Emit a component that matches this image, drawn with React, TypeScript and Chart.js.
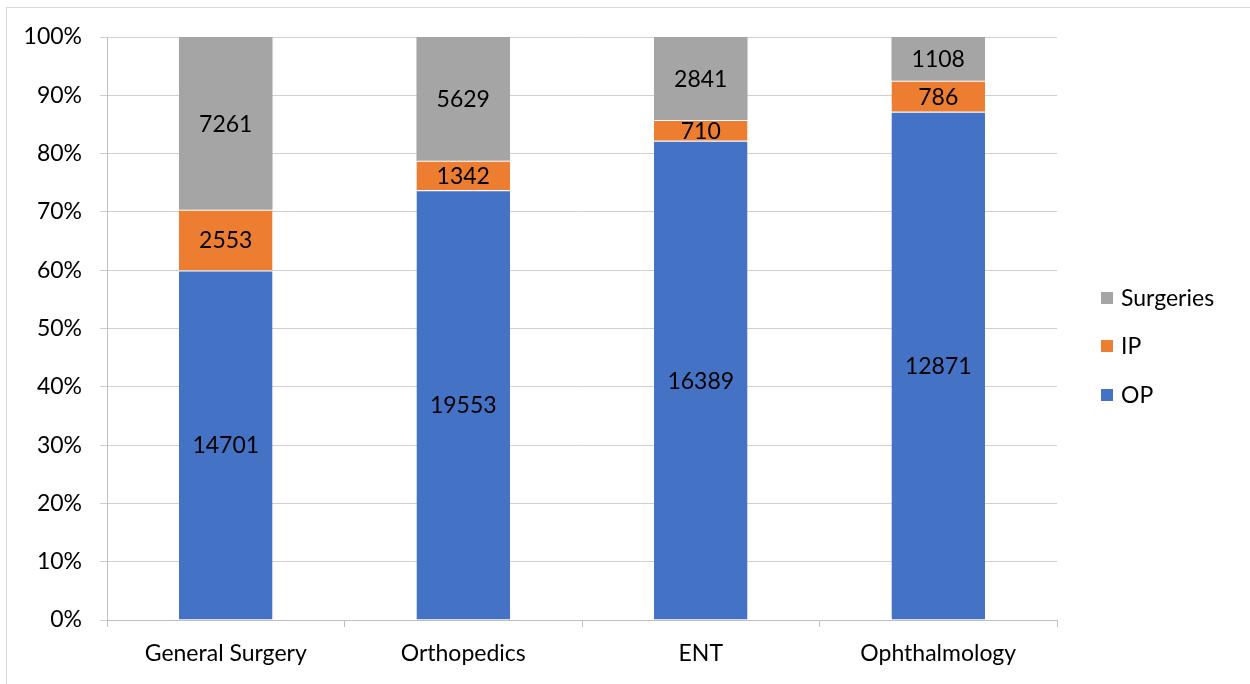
import React, { useEffect, useRef } from "react";
import { Chart, registerables } from "chart.js";

Chart.register(...registerables);

const categories = ["General Surgery", "Orthopedics", "ENT", "Ophthalmology"];
const opValues = [14701, 19553, 16389, 12871];
const ipValues = [2553, 1342, 710, 786];
const surgeryValues = [7261, 5629, 2841, 1108];
const seriesNames = ["OP", "IP", "Surgeries"];
const seriesColors = ["#4472C4", "#ED7D31", "#A5A5A5"];
const yTicks = [0, 10, 20, 30, 40, 50, 60, 70, 80, 90, 100];

const FONT = "Lato, 'Open Sans', sans-serif";
const FS = 23;

export default function App() {
  const ref = useRef<HTMLCanvasElement | null>(null);

  useEffect(() => {
    if (!ref.current) return;
    const raw = [opValues, ipValues, surgeryValues];
    const totals = categories.map((_, i) => opValues[i] + ipValues[i] + surgeryValues[i]);
    const pct = raw.map((arr) => arr.map((v, i) => (v / totals[i]) * 100));

    const labelPlugin = {
      id: "valueLabels",
      afterDatasetsDraw(chart: any) {
        const ctx = chart.ctx;
        ctx.save();
        ctx.font = `${FS}px ${FONT}`;
        ctx.fillStyle = "#000000";
        ctx.textAlign = "center";
        ctx.textBaseline = "middle";
        chart.data.datasets.forEach((ds: any, di: number) => {
          const meta = chart.getDatasetMeta(di);
          meta.data.forEach((bar: any, i: number) => {
            const y = (bar.y + bar.base) / 2;
            ctx.fillText(String(raw[di][i]), bar.x, y + 1);
          });
        });
        ctx.restore();
      },
    };

    const legendPlugin = {
      id: "customLegend",
      afterDraw(chart: any) {
        const ctx = chart.ctx;
        ctx.save();
        ctx.font = `${FS}px ${FONT}`;
        ctx.textAlign = "left";
        ctx.textBaseline = "middle";
        const rows = [298, 346, 395];
        const order = [2, 1, 0];
        order.forEach((di, r) => {
          const ds = chart.data.datasets[di];
          ctx.fillStyle = ds.backgroundColor;
          ctx.fillRect(1101, rows[r] - 6, 12, 12);
          ctx.fillStyle = "#000000";
          ctx.fillText(ds.label, 1121, rows[r] + 1);
        });
        ctx.restore();
      },
    };

    const chart = new Chart(ref.current, {
      type: "bar",
      data: {
        labels: categories,
        datasets: seriesNames.map((name, di) => ({
          label: name,
          data: pct[di],
          backgroundColor: seriesColors[di],
          borderColor: "#ffffff",
          borderWidth: di < 2 ? { top: 1, bottom: 0, left: 0, right: 0 } : 0,
          borderSkipped: false,
          categoryPercentage: 1,
          barPercentage: 0.394,
        })),
      },
      options: {
        animation: false,
        responsive: false,
        maintainAspectRatio: false,
        events: [],
        layout: { padding: { left: 0, top: 37, right: 193, bottom: 0 } },
        plugins: {
          legend: { display: false },
          tooltip: { enabled: false },
        },
        scales: {
          x: {
            stacked: true,
            grid: {
              display: true,
              drawOnChartArea: false,
              drawTicks: true,
              tickLength: 7,
              color: "#bfbfbf",
              offset: true,
            },
            border: { display: true, color: "#bfbfbf" },
            ticks: {
              color: "#000000",
              font: { family: FONT, size: FS },
              padding: 13,
            },
            afterFit: (s: any) => {
              s.height = 64;
            },
          },
          y: {
            stacked: true,
            min: 0,
            max: 100,
            afterBuildTicks: (s: any) => {
              s.ticks = yTicks.map((v) => ({ value: v }));
            },
            grid: {
              color: "#d0d0d0",
              tickLength: 7,
            },
            border: { display: true, color: "#bfbfbf" },
            ticks: {
              color: "#000000",
              font: { family: FONT, size: FS },
              padding: 18,
              callback: (v: any) => `${v}%`,
            },
            afterFit: (s: any) => {
              s.width = 107;
            },
          },
        },
      },
      plugins: [labelPlugin, legendPlugin],
    });
    return () => chart.destroy();
  }, []);

  return (
    <div style={{ position: "fixed", left: 0, top: 0, width: 1250, height: 684, background: "#fff" }}>
      <div
        style={{
          position: "absolute",
          left: 6,
          top: 7,
          width: 1300,
          height: 700,
          border: "1px solid #d9d9d9",
          boxSizing: "border-box",
        }}
      />
      <canvas ref={ref} width={1250} height={684} style={{ position: "absolute", left: 0, top: 0, display: "block" }} />
    </div>
  );
}
